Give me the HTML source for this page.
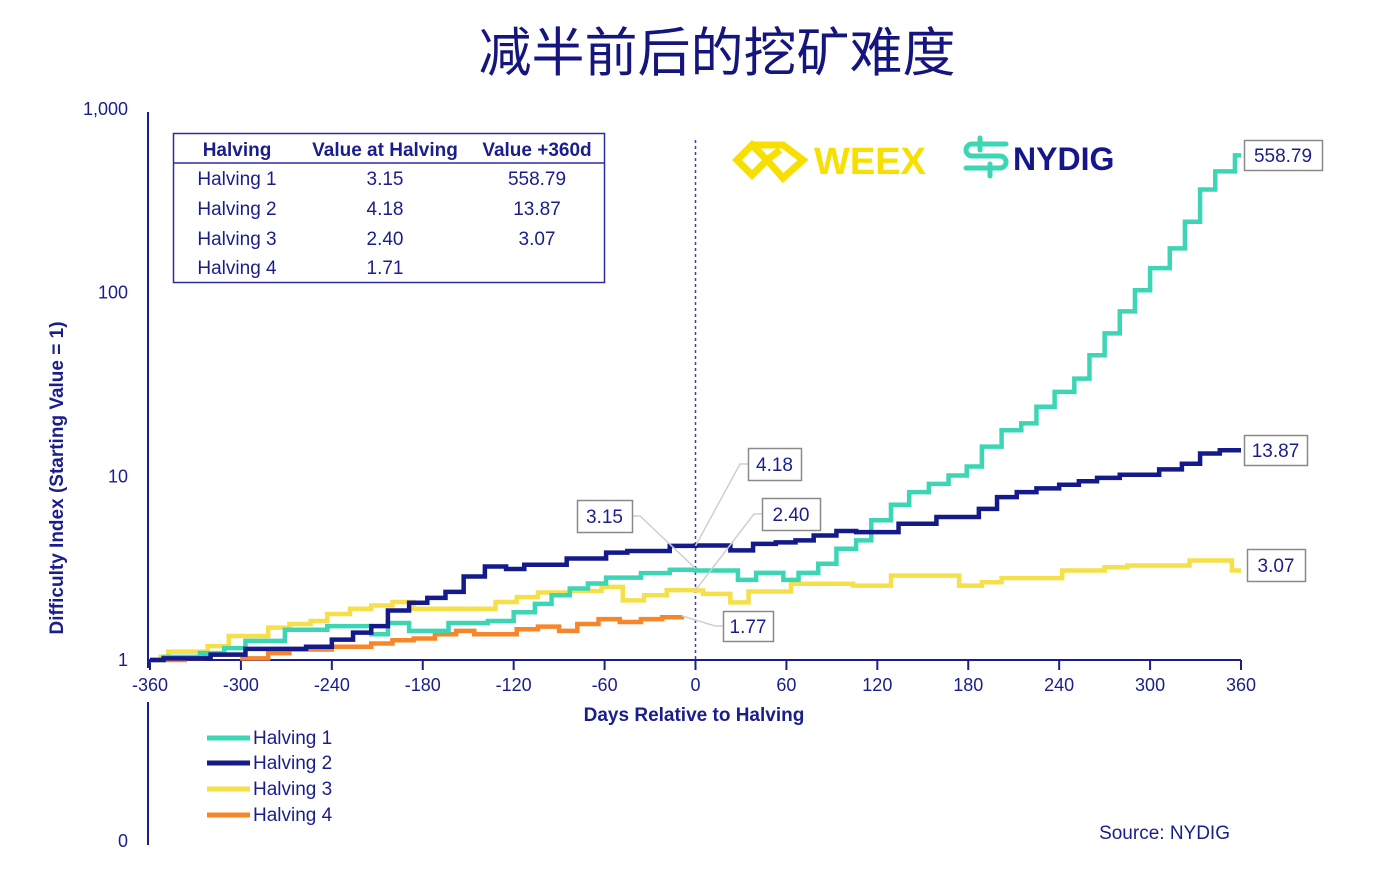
<!DOCTYPE html>
<html><head><meta charset="utf-8"><style>
html,body{margin:0;padding:0;background:#fff;}
svg{display:block;font-family:"Liberation Sans","Noto Sans CJK SC",sans-serif;}
</style></head><body>
<svg id="chart" width="1400" height="888" viewBox="0 0 1400 888">
<text x="717" y="71" text-anchor="middle" font-size="53" fill="#14167e" font-family="Noto Sans CJK SC, sans-serif">减半前后的挖矿难度</text>
<g id="axes"></g>
<g id="series"></g>
<g fill="#1a1e8c" font-size="19" text-anchor="middle">
<rect x="173.5" y="133.5" width="431" height="149" fill="none" stroke="#2a2fa0" stroke-width="1.5"/>
<line x1="173" y1="163" x2="604" y2="163" stroke="#2a2fa0" stroke-width="1.5"/>
<text x="237" y="156" font-weight="bold">Halving</text>
<text x="385" y="156" font-weight="bold">Value at Halving</text>
<text x="537" y="156" font-weight="bold">Value +360d</text>
<text x="237" y="185">Halving 1</text><text x="385" y="185">3.15</text><text x="537" y="185">558.79</text>
<text x="237" y="215">Halving 2</text><text x="385" y="215">4.18</text><text x="537" y="215">13.87</text>
<text x="237" y="245">Halving 3</text><text x="385" y="245">2.40</text><text x="537" y="245">3.07</text>
<text x="237" y="274">Halving 4</text><text x="385" y="274">1.71</text>
</g>
<g>
<path d="M737 160 L752 145 L767 145 M752 145 L767 160 L752 175 L737 160 Z" fill="none" stroke="#f7e000" stroke-width="7" stroke-linejoin="miter"/>
<path d="M767 145 L783 145 L803 160 L783 178 L767 160 L780 150" fill="none" stroke="#f7e000" stroke-width="7"/>
<text x="814" y="174" font-size="38" font-weight="bold" fill="#f7e000">WEEX</text>
</g>
<g>
<g fill="none" stroke="#3dd6b5" stroke-width="5" stroke-linecap="round">
<path d="M1006 144 H972 a6 6 0 0 0 0 12 H1000 a6 6 0 0 1 0 12 H966"/>
<line x1="980" y1="138" x2="980" y2="150"/><line x1="990" y1="164" x2="990" y2="176"/>
</g>
<text x="1013" y="170" font-size="32" font-weight="bold" fill="#14168a">NYDIG</text>
</g>
<g font-size="19" fill="#1a1e8c">
<g><line x1="207" y1="738" x2="250" y2="738" stroke="#3dd6b5" stroke-width="5"/><text x="253" y="744">Halving 1</text></g>
<g><line x1="207" y1="763" x2="250" y2="763" stroke="#141a8a" stroke-width="5"/><text x="253" y="769">Halving 2</text></g>
<g><line x1="207" y1="789" x2="250" y2="789" stroke="#f6e04a" stroke-width="5"/><text x="253" y="795">Halving 3</text></g>
<g><line x1="207" y1="815" x2="250" y2="815" stroke="#f7862a" stroke-width="5"/><text x="253" y="821">Halving 4</text></g>
</g>
<text x="1230" y="839" text-anchor="end" font-size="19" fill="#1a1e8c">Source: NYDIG</text>
<g id="labels"></g>
</svg>
<script>
const xTicks = [-360,-300,-240,-180,-120,-60,0,60,120,180,240,300,360];
const yTicks = [1,10,100,1000];
const yTickLabels = ["1","10","100","1,000"];
const h1Days = [-360,-351,-327,-311,-297,-271,-243,-214,-203,-189,-163,-137,-120,-106,-95,-83,-71,-59,-36,-17,0,28,40,58,68,81,93,106,116,129,141,154,167,179,189,202,215,225,237,250,260,270,280,290,300,313,323,333,343,356,360];
const h1Vals = [1.0,1.04,1.09,1.16,1.27,1.46,1.53,1.38,1.59,1.44,1.59,1.63,1.82,2.02,2.25,2.45,2.61,2.81,2.97,3.1,3.07,2.73,2.98,2.73,2.98,3.34,4.03,4.48,5.76,7.0,8.2,9.1,10.1,11.3,14.5,17.8,19.4,23.9,28.8,34,45.6,60,79,103,136,174,243,364,457,558.79,558.79];
const h2Days = [-360,-351,-320,-297,-257,-240,-226,-214,-203,-189,-177,-165,-153,-139,-125,-113,-85,-59,-45,-17,0,23,38,53,66,78,93,106,134,159,187,199,212,225,240,253,265,280,306,321,333,346,360];
const h2Vals = [1.0,1.02,1.07,1.15,1.18,1.29,1.41,1.53,1.86,2.05,2.18,2.35,2.85,3.23,3.13,3.30,3.57,3.84,3.92,4.18,4.2,3.95,4.29,4.37,4.48,4.76,5.04,4.97,5.52,6.0,6.65,7.7,8.2,8.6,9.0,9.4,9.8,10.2,10.9,11.7,13.3,13.87,13.87];
const h3Days = [-360,-353,-348,-322,-308,-282,-268,-254,-243,-228,-214,-200,-186,-132,-118,-104,-83,-62,-48,-34,-19,0,5,23,35,63,104,129,174,189,202,242,270,285,326,354,360];
const h3Vals = [1.0,1.04,1.11,1.19,1.35,1.50,1.57,1.63,1.78,1.90,1.98,2.07,1.90,2.07,2.20,2.33,2.38,2.5,2.11,2.25,2.40,2.39,2.29,2.06,2.36,2.6,2.54,2.88,2.54,2.65,2.79,3.07,3.2,3.27,3.48,3.07,3.07];
const h4Days = [-360,-337,-325,-299,-282,-268,-240,-214,-200,-186,-172,-158,-146,-118,-104,-90,-78,-64,-50,-36,-22,-9];
const h4Vals = [1.0,1.02,1.07,1.02,1.09,1.14,1.18,1.23,1.28,1.31,1.38,1.44,1.38,1.47,1.52,1.44,1.57,1.67,1.61,1.67,1.71,1.74];
const seriesNames = ["halving-1","halving-2","halving-3","halving-4"];
const labelTexts = ["558.79","13.87","3.07","4.18","2.40","3.15","1.77"];

const NS="http://www.w3.org/2000/svg";
const X0=150,X1=1241,Ybase=660,decade=183.7;
function xs(d){return X0+(d+360)*(X1-X0)/720;}
function ys(v){return Ybase-Math.log10(v)*decade;}
function mk(tag,attrs,parent){const e=document.createElementNS(NS,tag);for(const k in attrs)e.setAttribute(k,attrs[k]);parent.appendChild(e);return e;}
const axes=document.getElementById('axes');
const navy="#1a1e8c";
let e;
e=mk('line',{x1:148,y1:112,x2:148,y2:668,stroke:navy,'stroke-width':2},axes);


e=mk('line',{x1:148,y1:702,x2:148,y2:845,stroke:navy,'stroke-width':2},axes);


e=mk('line',{x1:148,y1:Ybase,x2:X1,y2:Ybase,stroke:navy,'stroke-width':2},axes);


xTicks.forEach((t)=>{
  const x=xs(t);
  const l=mk('line',{x1:x,y1:Ybase,x2:x,y2:Ybase+10,stroke:navy,'stroke-width':2},axes);
  
  
  const tx=mk('text',{x:x,y:691,'text-anchor':'middle','font-size':18,fill:navy},axes);
  tx.textContent=String(t);
  
  
});
yTicks.forEach((t,i)=>{
  const tx=mk('text',{x:128,y:ys(t)+6,'text-anchor':'end','font-size':18,fill:navy},axes);
  tx.textContent=yTickLabels[i];
  
  
});
e=mk('text',{x:128,y:847,'text-anchor':'end','font-size':18,fill:navy},axes);
e.textContent="0";


e=mk('text',{x:0,y:0,transform:'translate(63,478) rotate(-90)','text-anchor':'middle','font-size':19,'font-weight':'bold',fill:navy},axes);
e.textContent="Difficulty Index (Starting Value = 1)";


e=mk('text',{x:694,y:721,'text-anchor':'middle','font-size':19,'font-weight':'bold',fill:navy},axes);
e.textContent="Days Relative to Halving";


e=mk('line',{x1:xs(0),y1:140,x2:xs(0),y2:Ybase,stroke:"#3b40b0",'stroke-width':1.5,'stroke-dasharray':'3,3'},axes);



const sg=document.getElementById('series');
const all=[[h3Days,h3Vals,"#f6e04a"],[h4Days,h4Vals,"#f7862a"],[h1Days,h1Vals,"#3dd6b5"],[h2Days,h2Vals,"#141a8a"]];
const order=[2,3,0,1];
all.forEach((s,k)=>{
  const [D,V,c]=s;
  let d="M"+xs(D[0])+","+ys(V[0]);
  for(let i=1;i<D.length;i++){d+=" H"+xs(D[i])+" V"+ys(V[i]);}
  const p=mk('path',{d:d,fill:'none',stroke:c,'stroke-width':4.5,'stroke-linejoin':'miter'},sg);
  
  
});

const lg=document.getElementById('labels');
const boxes=[
 [1244,140,78,30,h1Days[h1Days.length-1],h1Vals[h1Vals.length-1]],
 [1244,435,63,30,h2Days[h2Days.length-1],h2Vals[h2Vals.length-1]],
 [1247,549,58,32,h3Days[h3Days.length-1],h3Vals[h3Vals.length-1]],
 [748,448,53,32,0,4.18],
 [762,498,58,32,0,2.40],
 [577,500,55,32,0,3.15],
 [723,611,50,30,h4Days[h4Days.length-1],h4Vals[h4Vals.length-1]]
];
boxes.forEach((b,i)=>{
  const [x,y,w,h,dd,vv]=b;
  const px=xs(dd),py=ys(vv);
  const ax= px<x? x : x+w, ay=y+h/2;
  if(i>=3){
    const ln=mk('polyline',{points:(ax)+","+ay+" "+(ax+(px<x?-8:8))+","+ay+" "+px+","+py,fill:'none',stroke:'#cfcfcf','stroke-width':1.5},lg);
    
    
  }
  const r=mk('rect',{x:x+0.5,y:y+0.5,width:w,height:h,fill:'#fff',stroke:'#8a8a8a','stroke-width':1.5},lg);
  
  
  const t=mk('text',{x:x+w/2,y:y+h/2+7,'text-anchor':'middle','font-size':19,fill:navy},lg);
  t.textContent=labelTexts[i];
  
  
});
</script>
</body></html>
